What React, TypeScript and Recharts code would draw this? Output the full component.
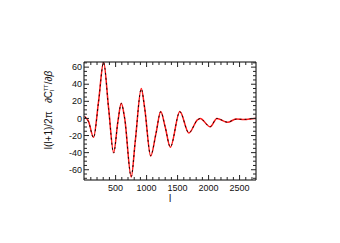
import React from "react";
import { LineChart, Line, XAxis, YAxis } from "recharts";

const multipoles = [2, 63, 144, 225, 306, 387, 468, 537, 591, 646, 752, 817, 914, 969, 1066, 1150, 1228, 1300, 1383, 1536, 1681, 1820, 1864, 2026, 2134, 2306, 2442, 2576, 2738, 2765];
const redSeries = [2.3, -3.5, -22, 20, 66, 12, -40, -3.5, 17.8, 0.3, -68.5, -26.7, 35, 12, -44, -18, 8, -10, -33.7, 8, -17, -1.6, 0, -9.8, 0, -4.6, -0.8, -1.2, 0, 0];
const blackSeries = [2.0, -3.8, -22.5, 19.5, 65.5, 11.5, -40.5, -3.8, 17.5, 0, -68, -26.5, 34.5, 11.8, -43.5, -18, 7.8, -10, -33.3, 7.8, -16.8, -1.8, -0.2, -9.6, 0, -4.4, -0.9, -1.1, 0, 0];

const xTicks = [100, 200, 300, 400, 500, 600, 700, 800, 900, 1000, 1100, 1200, 1300, 1400, 1500, 1600, 1700, 1800, 1900, 2000, 2100, 2200, 2300, 2400, 2500, 2600, 2700];
const xLabels = [500, 1000, 1500, 2000, 2500];
const yTicks = [-70, -65, -60, -55, -50, -45, -40, -35, -30, -25, -20, -15, -10, -5, 0, 5, 10, 15, 20, 25, 30, 35, 40, 45, 50, 55, 60, 65];
const yLabels = [-60, -40, -20, 0, 20, 40, 60];

const data = multipoles.map((l, i) => ({ l, red: redSeries[i], black: blackSeries[i] }));

const FONT = "'Liberation Sans', Arial, Helvetica, sans-serif";

const BottomTick = (props: any) => {
  const { x, y, payload } = props;
  const major = xLabels.includes(payload.value);
  return (
    <g>
      <line x1={x} y1={y} x2={x} y2={y - (major ? 5 : 3)} stroke="#222" strokeWidth={1} />
      {major && (
        <text x={x} y={y + 11} textAnchor="middle" fontSize={9} fontFamily={FONT} fill="#111">
          {payload.value}
        </text>
      )}
    </g>
  );
};

const TopTick = (props: any) => {
  const { x, y, payload } = props;
  const major = xLabels.includes(payload.value);
  return <line x1={x} y1={y} x2={x} y2={y + (major ? 5 : 3)} stroke="#222" strokeWidth={1} />;
};

const LeftTick = (props: any) => {
  const { x, y, payload } = props;
  const major = yLabels.includes(payload.value);
  return (
    <g>
      <line x1={x} y1={y} x2={x + (major ? 5 : 3)} y2={y} stroke="#222" strokeWidth={1} />
      {major && (
        <text x={x - 2} y={y} dy="0.35em" textAnchor="end" fontSize={9} fontFamily={FONT} fill="#111">
          {payload.value}
        </text>
      )}
    </g>
  );
};

const RightTick = (props: any) => {
  const { x, y, payload } = props;
  const major = yLabels.includes(payload.value);
  return <line x1={x} y1={y} x2={x - (major ? 5 : 3)} y2={y} stroke="#222" strokeWidth={1} />;
};

const YLabel = (props: any) => {
  const vb = props.viewBox || { x: 0, y: 54, width: 76, height: 118 };
  const cx = vb.x + 40;
  const cy = vb.y + 48;
  return (
    <text
      transform={`rotate(-90, ${cx}, ${cy})`}
      x={cx}
      y={cy}
      dy="0.35em"
      textAnchor="middle"
      fontSize={10}
      fontFamily={FONT}
      fill="#111"
    >
      <tspan>{"l(l+1)/2π\u00a0\u00a0\u00a0∂C"}</tspan>
      <tspan fontSize={6} dy={2}>l</tspan>
      <tspan fontSize={6} dy={-6} dx={-2}>TT</tspan>
      <tspan dy={4}>{"/∂"}</tspan>
      <tspan fontStyle="italic">β</tspan>
    </text>
  );
};

const XLabel = (props: any) => {
  const vb = props.viewBox || { x: 76, y: 172, width: 172, height: 30 };
  return (
    <text x={vb.x + vb.width / 2} y={vb.y + 22} textAnchor="middle" fontSize={10} fontFamily={FONT} fill="#111">
      l
    </text>
  );
};

export default function App() {
  return (
    <LineChart width={340} height={243} data={data} margin={{ top: 53, right: 91, bottom: 41, left: 0 }}>
      <XAxis
        dataKey="l"
        type="number"
        domain={[-10, 2765]}
        allowDataOverflow
        ticks={xTicks}
        interval={0}
        tickSize={0}
        tickMargin={0}
        height={30}
        stroke="#000"
        tick={<BottomTick />}
        label={<XLabel />}
      />
      <XAxis
        xAxisId="top"
        orientation="top"
        dataKey="l"
        type="number"
        domain={[-10, 2765]}
        allowDataOverflow
        ticks={xTicks}
        interval={0}
        tickSize={0}
        tickMargin={0}
        height={1}
        stroke="#000"
        tick={<TopTick />}
      />
      <YAxis
        type="number"
        domain={[-72, 66]}
        allowDataOverflow
        ticks={yTicks}
        interval={0}
        tickSize={0}
        tickMargin={0}
        width={76}
        stroke="#000"
        tick={<LeftTick />}
        label={<YLabel />}
      />
      <YAxis
        yAxisId="right"
        orientation="right"
        type="number"
        domain={[-72, 66]}
        allowDataOverflow
        ticks={yTicks}
        interval={0}
        tickSize={0}
        tickMargin={0}
        width={1}
        stroke="#000"
        tick={<RightTick />}
      />
      <Line type="monotone" dataKey="red" stroke="#ff1a1a" strokeWidth={1.5} dot={false} isAnimationActive={false} />
      <Line type="monotone" dataKey="black" stroke="#200000" strokeWidth={1} strokeDasharray="2 3" dot={false} isAnimationActive={false} />
    </LineChart>
  );
}
